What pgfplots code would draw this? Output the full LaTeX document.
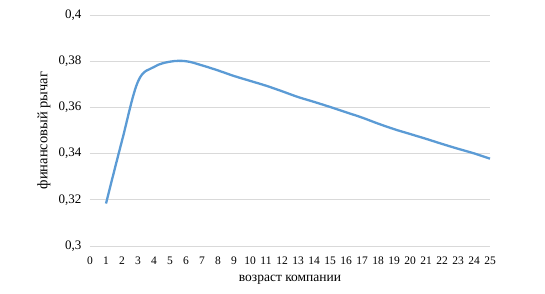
\documentclass[border=0pt]{standalone}
\usepackage{fontspec}
\setmainfont{Liberation Serif}
\usepackage{pgfplots}
\pgfplotsset{compat=1.18}
\definecolor{exblue}{HTML}{5B9BD5}
\definecolor{gridgray}{HTML}{D9D9D9}
\begin{document}
\begin{tikzpicture}[x=1pt,y=1pt]
\useasboundingbox (-90,-47) rectangle (455,246);
\begin{axis}[
  at={(0,0)}, anchor=south west,
  scale only axis, width=400pt, height=231pt,
  xmin=0, xmax=25, ymin=0.3, ymax=0.4,
  xtick={0,1,...,25}, ytick={0.3,0.32,0.34,0.36,0.38,0.4},
  yticklabels={{0,3},{0,32},{0,34},{0,36},{0,38},{0,4}},
  axis line style={draw=none},
  tick style={draw=none},
  ymajorgrids, xmajorgrids=false, grid style={draw=gridgray, line width=0.8pt},
  /pgf/number format/assume math mode=true,
  xticklabel style={font=\fontsize{11.5}{12}\selectfont, anchor=center, yshift=-15pt},
  yticklabel style={font=\fontsize{13}{14}\selectfont, xshift=-5pt},
  xlabel={возраст компании},
  ylabel={финансовый рычаг},
  xlabel style={font=\fontsize{13.5}{14}\selectfont, at={(axis description cs:0.5,-0.147)}, anchor=center},
  ylabel style={font=\fontsize{14.5}{15}\selectfont, at={(axis description cs:-0.115,0.5)}, anchor=center},
  clip=false,
]
\addplot[exblue, line width=2.3pt, smooth, tension=0.6] coordinates {
(1,0.3184) (2,0.3456) (3,0.3712) (4,0.3775) (5,0.3798) (6,0.3800) (7,0.3782)
(8,0.3760) (9,0.3736) (10,0.3715) (11,0.3694) (12,0.3670) (13,0.3645) (14,0.3624)
(15,0.3602) (16,0.3579) (17,0.3556) (18,0.3530) (19,0.3506) (20,0.3485)
(21,0.3464) (22,0.3442) (23,0.3421) (24,0.3401) (25,0.3378)
};
\end{axis}
\end{tikzpicture}
\end{document}
